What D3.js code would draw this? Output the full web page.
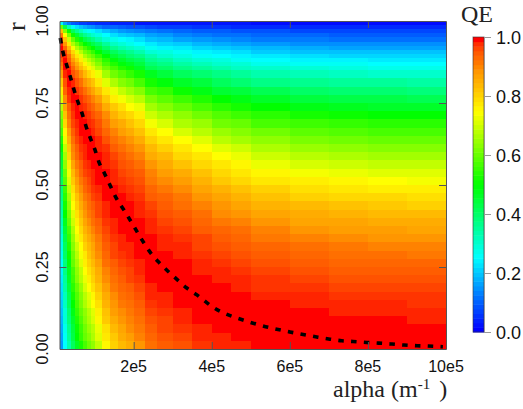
<!DOCTYPE html>
<html><head><meta charset="utf-8">
<script src="https://cdn.jsdelivr.net/npm/d3@7"></script>
<style>
html,body{margin:0;padding:0;background:#fff}
svg{display:block}
.tl{font-family:"Liberation Sans",Arial,sans-serif;fill:#111}
.ser{font-family:"Liberation Serif","Times New Roman",serif;fill:#222}
</style></head><body>
<div id="c"></div>
<script>
// alpha bin edges, in units of 1e4 per metre
const alphaEdges=[1,2,3,4,5,6,7,8,9,10,12,14,16,18,20,23,26,30,35,40,45,50,60,70,80,90,100];
// r bin edges
const rEdges=[0,.025,.05,.075,.1,.125,.15,.175,.2,.225,.25,.275,.3,.325,.35,.375,.4,.425,.45,.475,.5,.525,.55,.575,.6,.625,.65,.675,.7,.725,.75,.775,.8,.825,.85,.8625,.875,.8875,.9,.9125,.925,.9375,.95,.9625,.975,.9875,1];
// QE in percent, one row per r bin (bottom to top), one entry per alpha bin
const qePercent=[
[15,25,33,41,47,52,57,61,64,69,76,81,84,86,89,93,95,96,98,99,99,100,100,100,100,100],
[16,26,35,43,50,55,60,63,67,72,78,82,86,88,91,94,96,97,99,99,100,100,100,100,100,100],
[17,27,36,44,51,56,61,65,68,73,79,84,87,90,92,95,97,98,99,100,100,100,100,100,100,100],
[18,29,38,46,53,58,63,67,71,76,82,86,89,91,93,96,97,99,100,100,100,100,100,100,100,99],
[19,29,39,48,55,60,64,68,72,77,83,88,90,92,94,97,98,99,100,100,100,100,100,99,99,99],
[20,31,41,50,57,62,67,71,75,79,85,89,92,93,95,98,99,100,100,100,100,100,99,99,99,98],
[21,32,42,52,58,63,68,72,76,81,86,90,93,94,96,99,99,100,100,100,100,99,99,98,98,98],
[22,34,44,54,60,65,71,75,79,83,88,92,94,95,97,99,100,100,100,100,99,98,98,97,97,97],
[23,35,46,56,63,68,73,77,81,85,90,93,95,97,98,100,100,100,100,99,99,98,97,96,96,96],
[24,37,47,57,64,69,75,79,82,86,91,94,96,97,99,100,100,100,99,99,98,97,96,95,95,95],
[25,38,49,60,66,72,77,81,84,88,93,95,97,98,99,100,100,100,99,98,97,96,95,94,94,94],
[26,40,51,61,68,74,78,83,86,90,94,97,98,99,100,100,100,99,98,97,96,95,94,93,93,92],
[27,41,53,63,70,75,81,84,87,91,95,97,99,99,100,100,99,99,97,96,95,94,93,92,91,91],
[28,43,55,65,73,78,83,86,89,92,96,98,99,100,100,100,99,98,97,95,94,92,91,90,89,89],
[30,45,57,67,75,80,85,88,91,94,97,99,100,100,100,99,98,97,95,94,93,91,89,88,88,87],
[32,47,60,70,77,82,87,90,93,95,98,99,100,100,100,99,97,96,94,92,91,89,87,87,86,86],
[33,50,62,72,79,84,89,92,94,97,99,100,100,100,99,98,96,95,93,90,89,87,86,85,84,84],
[35,52,64,75,81,86,90,93,95,97,99,100,100,100,99,97,95,93,91,89,87,85,84,83,82,81],
[37,54,66,77,83,88,92,94,97,98,100,100,100,99,98,95,94,92,89,87,85,83,81,80,80,79],
[38,56,69,79,86,90,94,96,98,99,100,100,99,98,97,94,92,90,87,85,83,81,79,78,77,77],
[41,59,72,82,88,92,95,97,99,100,100,99,98,97,96,92,90,88,85,82,80,78,77,76,75,74],
[43,61,74,84,90,94,97,98,99,100,100,99,97,96,95,91,88,86,83,80,78,76,74,73,72,72],
[45,64,77,87,92,95,98,99,100,100,99,98,96,95,93,89,86,83,80,78,76,73,71,70,69,69],
[47,66,80,90,94,97,99,100,100,100,99,97,95,93,91,86,84,80,78,75,73,70,68,67,66,66],
[50,69,82,91,95,98,99,100,100,99,98,95,93,91,89,84,81,78,75,72,70,67,65,64,63,63],
[53,73,85,93,97,99,100,100,100,99,96,93,91,89,86,81,78,75,72,68,66,64,62,61,60,60],
[57,76,88,95,98,100,100,100,99,97,94,91,88,86,83,78,75,71,68,65,63,61,59,58,57,57],
[60,80,91,97,99,100,100,99,98,96,92,88,86,83,80,74,71,67,65,61,60,57,56,55,54,54],
[63,83,93,98,100,100,99,98,96,94,90,85,82,80,77,70,67,64,61,58,56,54,52,51,50,50],
[68,87,95,99,100,99,98,96,94,91,86,82,79,75,73,66,63,60,57,54,52,50,48,47,46,46],
[72,90,98,100,100,98,96,94,91,88,82,77,74,71,68,62,59,56,53,50,48,46,44,43,43,42],
[77,94,99,100,98,96,93,90,87,83,78,73,69,66,63,57,55,51,48,45,44,42,40,39,39,38],
[82,96,100,99,96,93,89,86,83,78,72,67,63,61,57,52,49,46,44,41,39,37,36,35,35,34],
[88,99,100,96,93,89,84,80,77,73,66,61,58,55,52,47,44,41,39,37,35,33,32,31,30,30],
[91,100,99,94,89,84,80,76,72,67,61,57,53,51,47,42,40,37,35,33,31,30,29,28,27,27],
[93,100,97,91,86,81,76,72,68,63,57,53,49,47,44,39,37,34,32,30,29,27,26,26,25,25],
[96,100,95,88,82,77,72,68,64,60,54,49,46,43,41,36,34,31,29,28,26,25,24,24,23,23],
[98,99,93,84,78,73,67,63,60,55,50,45,42,39,37,33,30,28,26,25,24,23,22,21,21,21],
[99,97,89,80,73,68,62,59,55,50,45,41,38,36,33,29,28,26,24,23,22,20,19,19,19,19],
[100,94,84,74,67,62,57,53,50,45,40,36,33,31,29,26,24,23,21,20,19,18,17,16,16,16],
[99,89,78,67,61,55,50,47,43,40,35,31,29,27,25,23,21,20,18,17,16,15,14,14,14,14],
[97,83,70,60,53,48,43,40,37,33,29,27,25,24,22,19,18,16,15,14,13,12,12,11,11,11],
[92,75,62,51,45,40,36,33,30,28,25,22,20,19,18,16,15,13,12,11,11,10,10,9,9,9],
[83,63,51,41,36,32,28,26,24,22,19,17,15,14,13,12,11,10,9,9,8,8,7,7,7,7],
[61,42,32,26,22,19,17,15,14,12,10,10,9,8,8,7,6,6,5,5,4,4,4,4,4,4],
[26,16,12,9,8,6,6,5,5,4,4,3,3,3,2,2,2,2,2,2,2,1,1,1,1,1]
];
// dashed curve: alpha (units of 1e4) and r
const curveAlpha=[1.2,1.8,2.74,3.77,4.6,5.64,6.74,7.77,8.9,10.1,11.1,12.5,13.8,15.4,17.7,20,22,24.3,26.4,28.7,31,33.6,36.2,40,49.7,60,64.1,67.2,70.3,73.3,76.2,79.7,82.8,86.2,89.2,92.6,95.4,99.2];
const curveR=[.948,.91,.87,.83,.795,.756,.72,.68,.643,.607,.57,.536,.503,.463,.42,.375,.335,.294,.265,.238,.213,.186,.165,.13,.082,.052,.043,.036,.03,.025,.023,.02,.018,.015,.012,.01,.009,.007];
const xTicks=[20,40,60,80,100];
const xTickLabels=["2e5","4e5","6e5","8e5","10e5"];
const rTicks=[0,.25,.5,.75,1];
const barTicks=[0,.2,.4,.6,.8,1];
const colorDomain=[0,.25,.5,.75,.8,.854,.888,.92,.956,.973,.99,.995,1];
const colorStops=["#0000ff","#00ffff","#00ff00","#ffff00","#ffd800","#ffb000","#ff9800","#ff7800","#ff5800","#ff4000","#ff2400","#ff0000","#ff0000"];

const W=523,H=409,L=59.5,R=446,T=21,B=349,barL=473,barR=484,barT=37,barB=332;
const svg=d3.select("#c").append("svg").attr("width",W).attr("height",H);
const x=d3.scaleLinear().domain([1,100]).range([L,R]);
const y=d3.scaleLinear().domain([0,1]).range([B,T]);
const col=d3.scaleLinear().domain(colorDomain).range(colorStops).interpolate(d3.interpolateRgb);
const steps=64;

const cells=qePercent.flatMap((row,i)=>row.map((q,j)=>({i,j,q})));
svg.append("g").selectAll("rect").data(cells).join("rect")
 .attr("x",d=>x(alphaEdges[d.j])).attr("width",d=>x(alphaEdges[d.j+1])-x(alphaEdges[d.j]))
 .attr("y",d=>y(rEdges[d.i+1])).attr("height",d=>y(rEdges[d.i])-y(rEdges[d.i+1]))
 .attr("fill",d=>col(d.q/100)).attr("shape-rendering","crispEdges");

svg.append("path").datum(d3.zip(curveAlpha,curveR))
 .attr("d",d3.line().x(d=>x(d[0])).y(d=>y(d[1])).curve(d3.curveMonotoneX))
 .attr("fill","none").attr("stroke","#000").attr("stroke-width",3.6).attr("stroke-dasharray","5.5 7.3");

const axisColor="#555";
function style(g,c){g.selectAll(".domain").attr("stroke",c);g.selectAll("line").attr("stroke",c);g.selectAll("text").remove();}
const inner=[.25,.5,.75];
svg.append("g").attr("transform",`translate(0,${B})`).call(d3.axisBottom(x).tickValues(xTicks.slice(0,4)).tickSize(-7).tickSizeOuter(0)).call(style,axisColor);
svg.append("g").attr("transform",`translate(0,${T})`).call(d3.axisTop(x).tickValues(xTicks.slice(0,4)).tickSize(-7).tickSizeOuter(0)).call(style,axisColor);
svg.append("g").attr("transform",`translate(${L},0)`).call(d3.axisLeft(y).tickValues(inner).tickSize(-7).tickSizeOuter(0)).call(style,axisColor);
svg.append("g").attr("transform",`translate(${R},0)`).call(d3.axisRight(y).tickValues(inner).tickSize(-7).tickSizeOuter(0)).call(style,axisColor);

svg.append("g").selectAll("text").data(xTicks).join("text").attr("class","tl")
 .attr("x",d=>x(d)).attr("y",372).attr("text-anchor","middle").attr("font-size",16).text((d,i)=>xTickLabels[i]);
svg.append("g").selectAll("text").data(rTicks).join("text").attr("class","tl")
 .attr("transform",d=>`translate(48,${y(d)}) rotate(-90)`).attr("text-anchor","middle").attr("font-size",16).text(d=>d.toFixed(2));

svg.append("text").attr("class","ser").attr("transform","translate(25,31) rotate(-90)").attr("font-size",26).text("r");
const xl=svg.append("text").attr("class","ser").attr("x",333).attr("y",397).attr("font-size",24);
xl.append("tspan").text("alpha (m");
xl.append("tspan").attr("font-size",15).attr("dy",-8).text("-1");
xl.append("tspan").attr("dy",8).attr("dx",3).text(" )");
svg.append("text").attr("class","ser").attr("x",461).attr("y",22).attr("font-size",24).text("QE");

// colour bar
const by=d3.scaleLinear().domain([0,1]).range([barB,barT]);
svg.append("g").selectAll("rect").data(d3.range(steps)).join("rect")
 .attr("x",barL).attr("width",barR-barL)
 .attr("y",d=>by((d+1)/steps)).attr("height",(barB-barT)/steps+.5)
 .attr("fill",d=>col(d/(steps-1)));
svg.append("rect").attr("x",barL).attr("y",barT).attr("width",barR-barL).attr("height",barB-barT)
 .attr("fill","none").attr("stroke","#333").attr("stroke-opacity",.6);
const bar=svg.append("g").attr("transform",`translate(${barR},0)`).call(d3.axisRight(by).tickValues(barTicks).tickSize(7).tickSizeOuter(0));
bar.selectAll(".domain").attr("stroke","#999");bar.selectAll("line").attr("stroke","#999");bar.selectAll("text").remove();
svg.append("g").selectAll("text").data(barTicks).join("text").attr("class","tl")
 .attr("x",496).attr("y",d=>by(d)+6.5).attr("font-size",18).text(d=>d.toFixed(1));
</script></body></html>
